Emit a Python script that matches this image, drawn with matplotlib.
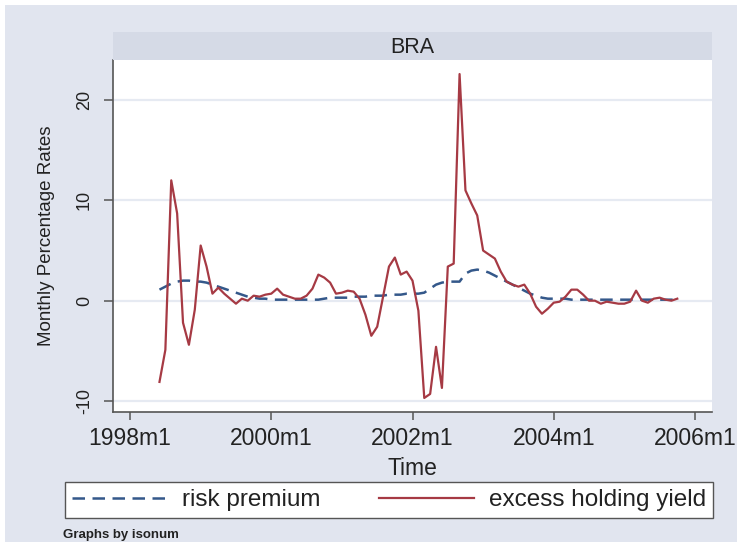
import matplotlib
matplotlib.use("Agg")
import matplotlib.pyplot as plt
import matplotlib.patches as patches
from matplotlib.lines import Line2D
import numpy as np

plt.rcParams['font.family'] = ['Liberation Sans', 'DejaVu Sans']

# monthly data, 1998m6 .. 2005m10 (months counted from 1998m1 = 0)
start_month = 5
excess_holding_yield = [
    -8.1, -4.9, 12.0, 8.7, -2.2, -4.4, -0.9, 5.5, 3.4, 0.7,
    1.3, 0.7, 0.2, -0.3, 0.2, 0.0, 0.5, 0.4, 0.6, 0.7,
    1.2, 0.6, 0.4, 0.2, 0.2, 0.5, 1.2, 2.6, 2.3, 1.8,
    0.7, 0.8, 1.0, 0.9, 0.2, -1.4, -3.5, -2.6, 0.4, 3.4,
    4.3, 2.6, 2.9, 2.0, -1.0, -9.7, -9.3, -4.6, -8.7, 3.4,
    3.7, 22.6, 11.0, 9.7, 8.5, 5.0, 4.6, 4.2, 2.9, 1.9,
    1.6, 1.4, 1.6, 0.7, -0.6, -1.3, -0.8, -0.2, -0.1, 0.4,
    1.1, 1.1, 0.6, 0.0, 0.0, -0.3, -0.1, -0.2, -0.3, -0.3,
    -0.1, 1.0, 0.0, -0.2, 0.2, 0.3, 0.1, 0.0, 0.2,
]
risk_premium = [
    1.1, 1.4, 1.7, 1.9, 2.0, 2.0, 1.9, 1.9, 1.8, 1.6,
    1.4, 1.2, 1.0, 0.8, 0.6, 0.4, 0.3, 0.2, 0.2, 0.1,
    0.1, 0.1, 0.1, 0.1, 0.1, 0.1, 0.1, 0.1, 0.2, 0.3,
    0.3, 0.3, 0.3, 0.4, 0.4, 0.4, 0.5, 0.5, 0.5, 0.6,
    0.6, 0.6, 0.7, 0.7, 0.7, 0.8, 1.2, 1.6, 1.8, 1.9,
    1.9, 1.9, 2.7, 3.0, 3.1, 3.0, 2.8, 2.5, 2.2, 1.9,
    1.6, 1.3, 1.0, 0.7, 0.5, 0.3, 0.2, 0.2, 0.2, 0.2,
    0.1, 0.1, 0.1, 0.1, 0.1, 0.1, 0.1, 0.1, 0.1, 0.1,
    0.1, 0.1, 0.1, 0.1, 0.1, 0.1, 0.1, 0.1, 0.1,
]
x_ticks = [0, 24, 48, 72, 96]
x_labels = ['1998m1', '2000m1', '2002m1', '2004m1', '2006m1']
y_ticks = [-10, 0, 10, 20]

months = start_month + np.arange(len(excess_holding_yield))

W, H = 740, 547
fig = plt.figure(figsize=(W / 100, H / 100), dpi=100, facecolor='white')

# stata-like graph region
bg = patches.Rectangle((5 / W, 5 / H), 732 / W, 537 / H, transform=fig.transFigure,
                       facecolor='#e1e5ef', edgecolor='none', zorder=-10)
fig.add_artist(bg)

ax = fig.add_axes([113 / W, 1 - 412 / H, 599 / W, 352 / H])
ax.set_facecolor('white')

navy = '#34588a'
maroon = '#a63a44'
ax.plot(months, risk_premium, color=navy, lw=1.8, dashes=(5, 3), zorder=3)
ax.plot(months, excess_holding_yield, color=maroon, lw=1.6, zorder=4)

ax.set_xlim(-2.9, 98.9)
ax.set_ylim(-11.1, 24.0)
ax.set_xticks(x_ticks)
ax.set_xticklabels(x_labels, fontsize=16.5)
ax.set_yticks(y_ticks)
ax.set_yticklabels([str(v) for v in y_ticks], fontsize=13, rotation=90, va='center')
ax.grid(axis='y', color='#e6eaf2', lw=1.6)
ax.set_axisbelow(True)

for s in ['top', 'right']:
    ax.spines[s].set_visible(False)
for s in ['left', 'bottom']:
    ax.spines[s].set_color('#555555')
    ax.spines[s].set_linewidth(1.2)
ax.tick_params(axis='x', length=6, width=1.1, color='#555555', pad=5, labelcolor='#222222')
ax.tick_params(axis='y', length=6.5, width=1.1, color='#555555', pad=8, labelcolor='#222222')

ax.set_xlabel('Time', fontsize=16.5, color='#222222', labelpad=5)
ax.set_ylabel('Monthly Percentage Rates', fontsize=13.5, color='#222222', labelpad=15)

# panel title strip
strip = fig.add_axes([113 / W, 1 - 60 / H, 599 / W, 28 / H])
strip.set_facecolor('#d5dae6')
strip.set_xticks([])
strip.set_yticks([])
for s in strip.spines.values():
    s.set_visible(False)
strip.text(0.5, 0.45, 'BRA', ha='center', va='center', fontsize=15.5, color='#222222',
           transform=strip.transAxes)

handles = [Line2D([], [], color=navy, lw=1.8, dashes=(5, 3)),
           Line2D([], [], color=maroon, lw=1.6)]
leg = fig.legend(handles, ['risk premium', 'excess holding yield'], ncol=2,
                 loc='center', bbox_to_anchor=(65 / W, 1 - 518 / H, 648 / W, 36 / H),
                 mode='expand', borderaxespad=0, fontsize=17.5, frameon=True,
                 fancybox=False, edgecolor='#555555', facecolor='white', framealpha=1,
                 handlelength=3.9, handletextpad=0.6, borderpad=0.3)
leg.get_frame().set_linewidth(1.0)
for t in leg.get_texts():
    t.set_color('#222222')

fig.text(63 / W, 1 - 535 / H, 'Graphs by isonum', fontsize=9.5, fontweight='bold',
         color='#222222', va='center', ha='left')

fig.savefig('out.png', dpi=100, facecolor='white')
